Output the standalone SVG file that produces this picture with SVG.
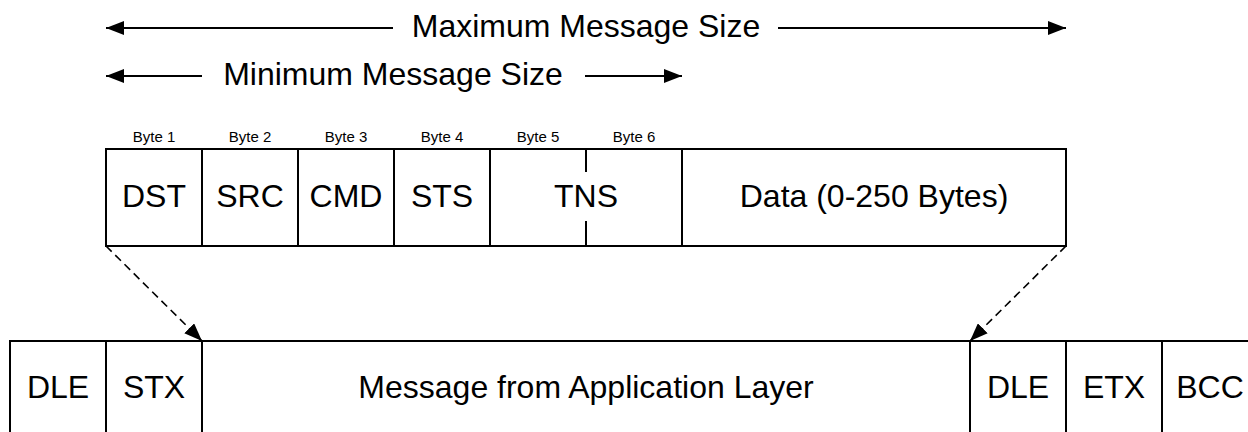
<svg xmlns="http://www.w3.org/2000/svg" width="1248" height="432" viewBox="0 0 1248 432">
<style>
.cell{fill:#fff;stroke:#000;stroke-width:2}
.ln{stroke:#000;stroke-width:2;fill:none}
.big{font-family:"Liberation Sans",Arial,sans-serif;font-size:32px;fill:#000;text-anchor:middle}
.sm{font-family:"Liberation Sans",Arial,sans-serif;font-size:15px;fill:#000;text-anchor:middle}
.dash{stroke:#000;stroke-width:1.6;fill:none;stroke-dasharray:8 5}
</style>
<defs>
<marker id="ah" markerUnits="userSpaceOnUse" markerWidth="18" markerHeight="14" refX="18" refY="7" orient="auto">
<path d="M0,0 L18,7 L0,14 Z" fill="#000"/>
</marker>
</defs>
<rect width="1248" height="432" fill="#fff"/>

<g id="max-size">
<line class="ln" x1="393" y1="28" x2="106" y2="28" marker-end="url(#ah)"/>
<line class="ln" x1="778" y1="28" x2="1066" y2="28" marker-end="url(#ah)"/>
<text class="big" x="586" y="37">Maximum Message Size</text>
</g>
<g id="min-size">
<line class="ln" x1="202" y1="76" x2="106" y2="76" marker-end="url(#ah)"/>
<line class="ln" x1="585" y1="76" x2="682" y2="76" marker-end="url(#ah)"/>
<text class="big" x="393" y="85">Minimum Message Size</text>
</g>

<g id="dst"><text class="sm" x="154" y="142">Byte 1</text><rect class="cell" x="106" y="149" width="96" height="97"/><text class="big" x="154" y="207">DST</text></g>
<g id="src"><text class="sm" x="250" y="142">Byte 2</text><rect class="cell" x="202" y="149" width="96" height="97"/><text class="big" x="250" y="207">SRC</text></g>
<g id="cmd"><text class="sm" x="346" y="142">Byte 3</text><rect class="cell" x="298" y="149" width="96" height="97"/><text class="big" x="346" y="207">CMD</text></g>
<g id="sts"><text class="sm" x="442" y="142">Byte 4</text><rect class="cell" x="394" y="149" width="96" height="97"/><text class="big" x="442" y="207">STS</text></g>
<g id="tns"><text class="sm" x="538" y="142">Byte 5</text><text class="sm" x="634" y="142">Byte 6</text><rect class="cell" x="490" y="149" width="192" height="97"/><line class="ln" x1="586" y1="149" x2="586" y2="172"/><line class="ln" x1="586" y1="221" x2="586" y2="246"/><text class="big" x="586" y="207">TNS</text></g>
<g id="data"><rect class="cell" x="682" y="149" width="384" height="97"/><text class="big" x="874" y="207">Data (0-250 Bytes)</text></g>

<g id="dle1"><rect class="cell" x="10" y="341" width="96" height="110"/><text class="big" x="58" y="398">DLE</text></g>
<g id="stx"><rect class="cell" x="106" y="341" width="96" height="110"/><text class="big" x="154" y="398">STX</text></g>
<g id="message"><rect class="cell" x="202" y="341" width="768" height="110"/><text class="big" x="586" y="398">Message from Application Layer</text></g>
<g id="dle2"><rect class="cell" x="970" y="341" width="96" height="110"/><text class="big" x="1018" y="398">DLE</text></g>
<g id="etx"><rect class="cell" x="1066" y="341" width="96" height="110"/><text class="big" x="1114" y="398">ETX</text></g>
<g id="bcc"><rect class="cell" x="1162" y="341" width="110" height="110"/><text class="big" x="1210" y="398">BCC</text></g>

<g id="connectors">
<line class="dash" x1="106" y1="246" x2="202" y2="341" marker-end="url(#ah)"/>
<line class="dash" x1="1066" y1="246" x2="970" y2="341" marker-end="url(#ah)"/>
</g>
</svg>
